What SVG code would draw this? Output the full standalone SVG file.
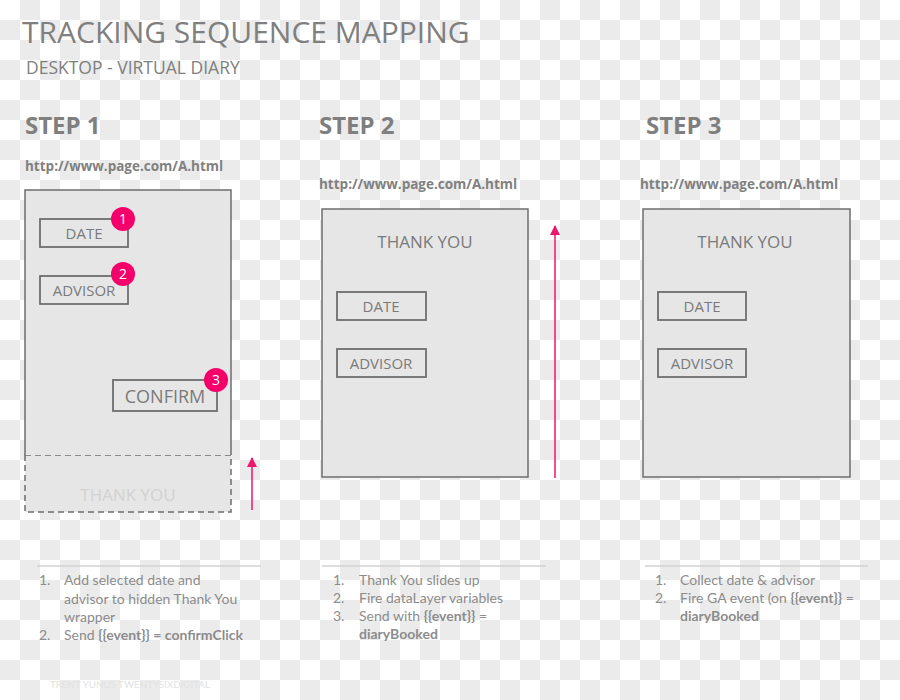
<svg xmlns="http://www.w3.org/2000/svg" width="900" height="700" viewBox="0 0 900 700">
<defs>
<pattern id="chk" x="0" y="0" width="40" height="40" patternUnits="userSpaceOnUse">
<rect width="40" height="40" fill="#ffffff"/>
<rect x="20" y="0" width="20" height="20" fill="#ebebeb"/>
<rect x="0" y="20" width="20" height="20" fill="#ebebeb"/>
</pattern>
<marker id="arr" markerWidth="10" markerHeight="10" viewBox="0 0 10 10" refX="9" refY="5" orient="auto" markerUnits="userSpaceOnUse">
<path d="M0,0 L10,5 L0,10 z" fill="#f0156e"/>
</marker>
</defs>
<style>
.ttl{font-family:"Open Sans","Liberation Sans",sans-serif;fill:#7f7f7f}
.step{font-family:"Open Sans","Liberation Sans",sans-serif;font-weight:bold;font-size:24px;fill:#7f7f7f}
.url{font-family:"Open Sans","Liberation Sans",sans-serif;font-weight:bold;font-size:13.5px;fill:#808080}
.page{fill:#e6e6e6;stroke:#6e6e6e;stroke-width:1.5}
.btn{fill:none;stroke:#6e6e6e;stroke-width:1.8}
.btxt{font-family:"Open Sans","Liberation Sans",sans-serif;font-size:15px;fill:#7a7a7a;text-anchor:middle}
.big{font-size:18px}
.ty{font-family:"Open Sans","Liberation Sans",sans-serif;font-size:17px;text-anchor:middle}
.badge{fill:#f5006a}
.bnum{font-family:"Open Sans","Liberation Sans",sans-serif;font-size:14px;fill:#ffffff;text-anchor:middle}
.sep{stroke:#d2d2d2;stroke-width:1.5}
.li{font-family:Lato,"Liberation Sans",sans-serif;font-size:14px;fill:#8c8c8c}
.b{font-weight:bold}
.conn{stroke:#f0156e;stroke-width:1.5;fill:none}
</style>
<rect width="900" height="700" fill="url(#chk)"/>

<g id="header">
<text class="ttl" x="22" y="43" font-size="30">TRACKING SEQUENCE MAPPING</text>
<text class="ttl" x="26" y="74" font-size="17.5">DESKTOP - VIRTUAL DIARY</text>
</g>

<g id="step1">
<text class="step" x="25" y="134">STEP 1</text>
<text class="url" x="25" y="171">http://www.page.com/A.html</text>
<rect class="page" x="25" y="455" width="206" height="57" stroke-dasharray="6,4"/>
<text class="ty" x="128" y="501" fill="#d2d2d2">THANK YOU</text>
<path d="M25,455 L25,190 L231,190 L231,455" class="page"/>
<g id="s1-date"><rect class="btn" x="40" y="219" width="88" height="28"/><text class="btxt" x="84" y="239">DATE</text></g>
<g id="s1-badge1"><circle class="badge" cx="123" cy="219" r="12"/><text class="bnum" x="123" y="224">1</text></g>
<g id="s1-advisor"><rect class="btn" x="40" y="276" width="88" height="28"/><text class="btxt" x="84" y="296">ADVISOR</text></g>
<g id="s1-badge2"><circle class="badge" cx="123" cy="274" r="12"/><text class="bnum" x="123" y="279">2</text></g>
<g id="s1-confirm"><rect class="btn" x="113" y="380" width="104" height="31"/><text class="btxt big" x="165" y="403">CONFIRM</text></g>
<g id="s1-badge3"><circle class="badge" cx="216" cy="380" r="12"/><text class="bnum" x="216" y="385">3</text></g>
<line class="sep" x1="37" y1="566" x2="261" y2="566"/>
<text class="li" x="39" y="585">1.</text>
<text class="li" x="64" y="585">Add selected date and</text>
<text class="li" x="64" y="604">advisor to hidden Thank You</text>
<text class="li" x="64" y="622">wrapper</text>
<text class="li" x="39" y="640">2.</text>
<text class="li" x="64" y="640">Send <tspan class="b">{{event}} = confirmClick</tspan></text>
</g>

<g id="step2">
<text class="step" x="319" y="134">STEP 2</text>
<text class="url" x="319" y="189">http://www.page.com/A.html</text>
<rect class="page" x="322" y="209" width="206" height="268"/>
<text class="ty" x="425" y="248" fill="#7a7a7a">THANK YOU</text>
<g id="s2-date"><rect class="btn" x="337" y="292" width="89" height="28"/><text class="btxt" x="381" y="312">DATE</text></g>
<g id="s2-advisor"><rect class="btn" x="337" y="349" width="89" height="28"/><text class="btxt" x="381" y="369">ADVISOR</text></g>
<line class="sep" x1="322" y1="566" x2="546" y2="566"/>
<text class="li" x="333" y="585">1.</text>
<text class="li" x="359" y="585">Thank You slides up</text>
<text class="li" x="333" y="603">2.</text>
<text class="li" x="359" y="603">Fire dataLayer variables</text>
<text class="li" x="333" y="621">3.</text>
<text class="li" x="359" y="621">Send with <tspan class="b">{{event}}</tspan> =</text>
<text class="li b" x="359" y="639">diaryBooked</text>
</g>

<g id="step3">
<text class="step" x="646" y="134">STEP 3</text>
<text class="url" x="640" y="189">http://www.page.com/A.html</text>
<rect class="page" x="643" y="209" width="207" height="268"/>
<text class="ty" x="745" y="248" fill="#7a7a7a">THANK YOU</text>
<g id="s3-date"><rect class="btn" x="658" y="292" width="88" height="28"/><text class="btxt" x="702" y="312">DATE</text></g>
<g id="s3-advisor"><rect class="btn" x="658" y="349" width="88" height="28"/><text class="btxt" x="702" y="369">ADVISOR</text></g>
<line class="sep" x1="645" y1="566" x2="868" y2="566"/>
<text class="li" x="655" y="585">1.</text>
<text class="li" x="680" y="585">Collect date &amp; advisor</text>
<text class="li" x="655" y="603">2.</text>
<text class="li" x="680" y="603">Fire GA event (on <tspan class="b">{{event}}</tspan> =</text>
<text class="li b" x="680" y="621">diaryBooked</text>
</g>

<g id="connectors">
<line class="conn" x1="252" y1="510" x2="252" y2="458" marker-end="url(#arr)"/>
<line class="conn" x1="555" y1="478" x2="555" y2="226" marker-end="url(#arr)"/>
</g>

<text x="50" y="688" font-family="Lato, Liberation Sans, sans-serif" font-size="10" fill="#e2e2e2" textLength="160" lengthAdjust="spacingAndGlyphs">TRENT YUNUS TWENTYSIXDIGITAL</text>
</svg>
